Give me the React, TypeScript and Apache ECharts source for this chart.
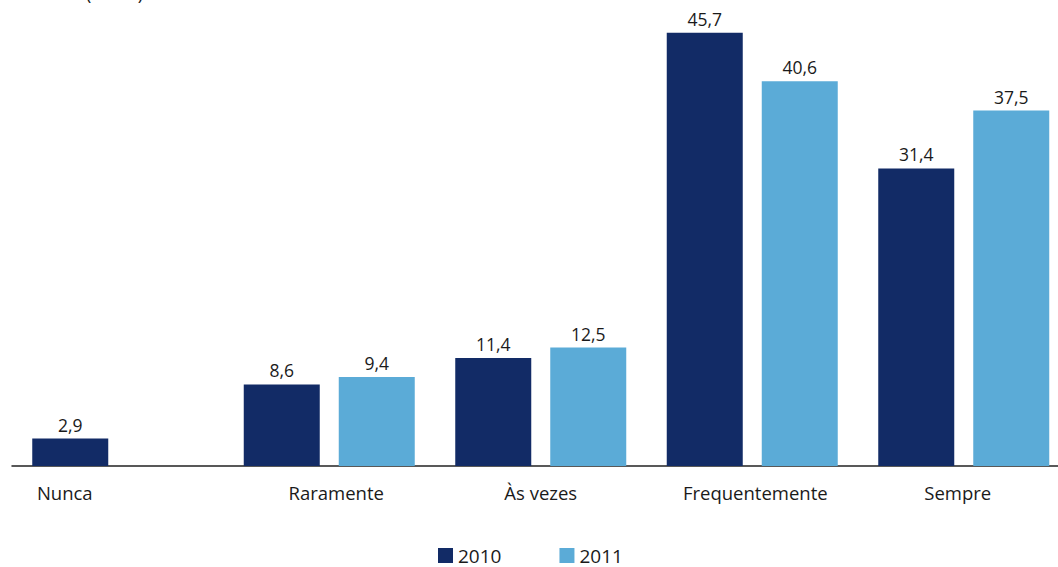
import React, { useEffect, useRef } from "react";
import * as echarts from "echarts";

const categories = ["Nunca", "Raramente", "Às vezes", "Frequentemente", "Sempre"];
const series2010 = [2.9, 8.6, 11.4, 45.7, 31.4];
const series2011: (number | null)[] = [null, 9.4, 12.5, 40.6, 37.5];
const seriesNames = ["2010", "2011"];
const colors = ["#122b66", "#5babd7"];

export default function App() {
  const ref = useRef<HTMLDivElement>(null);
  useEffect(() => {
    document.body.style.margin = "0";
    const chart = echarts.init(ref.current!, null, { renderer: "svg" });
    const font = "'Open Sans', 'Noto Sans', sans-serif";
    const fmt = (p: any) => (p.value == null ? "" : p.value.toFixed(1).replace(".", ","));
    const labelPads = [
      [0, 106, 0, 0],
      [0, 0, 0, 14],
      [0, 0, 0, 0],
      [0, 0, 0, 6],
      [0, 12, 0, 0],
    ];
    chart.setOption({
      animation: false,
      textStyle: { fontFamily: font },
      grid: { left: 12, top: 30, width: 1057.5, bottom: 101, containLabel: false },
      legend: {
        bottom: -3,
        left: 433,
        itemWidth: 15,
        itemHeight: 15,
        itemGap: 58,
        icon: "rect",
        textStyle: { fontSize: 19, color: "#1a1a1a", fontFamily: font },
        data: seriesNames,
      },
      graphic: [
        {
          type: "text",
          left: 86,
          top: -16,
          style: { text: "(em %)", font: `18px ${font}`, fill: "#1a1a1a" },
        },
      ],
      xAxis: {
        type: "category",
        data: categories.map((c, i) => ({ value: c, textStyle: { padding: labelPads[i] } })),
        axisLine: { lineStyle: { color: "#222", width: 1.5 } },
        axisTick: { show: false },
        axisLabel: { fontSize: 18.5, color: "#1a1a1a", margin: 17, fontFamily: font },
      },
      yAxis: {
        type: "value",
        min: 0,
        max: 46,
        show: false,
        splitLine: { show: false },
      },
      series: [
        {
          name: seriesNames[0],
          type: "bar",
          data: series2010,
          barWidth: 76,
          barGap: "25%",
          itemStyle: { color: colors[0] },
          label: { show: true, position: "top", distance: 5, fontSize: 17.5, color: "#1a1a1a", formatter: fmt },
        },
        {
          name: seriesNames[1],
          type: "bar",
          data: series2011,
          barWidth: 76,
          barGap: "25%",
          itemStyle: { color: colors[1] },
          label: { show: true, position: "top", distance: 5, fontSize: 17.5, color: "#1a1a1a", formatter: fmt },
        },
      ],
    });
    return () => chart.dispose();
  }, []);
  return (
    <div style={{ width: 1058, height: 567, overflow: "hidden" }}>
      <div ref={ref} style={{ width: 1072, height: 567 }} />
    </div>
  );
}
